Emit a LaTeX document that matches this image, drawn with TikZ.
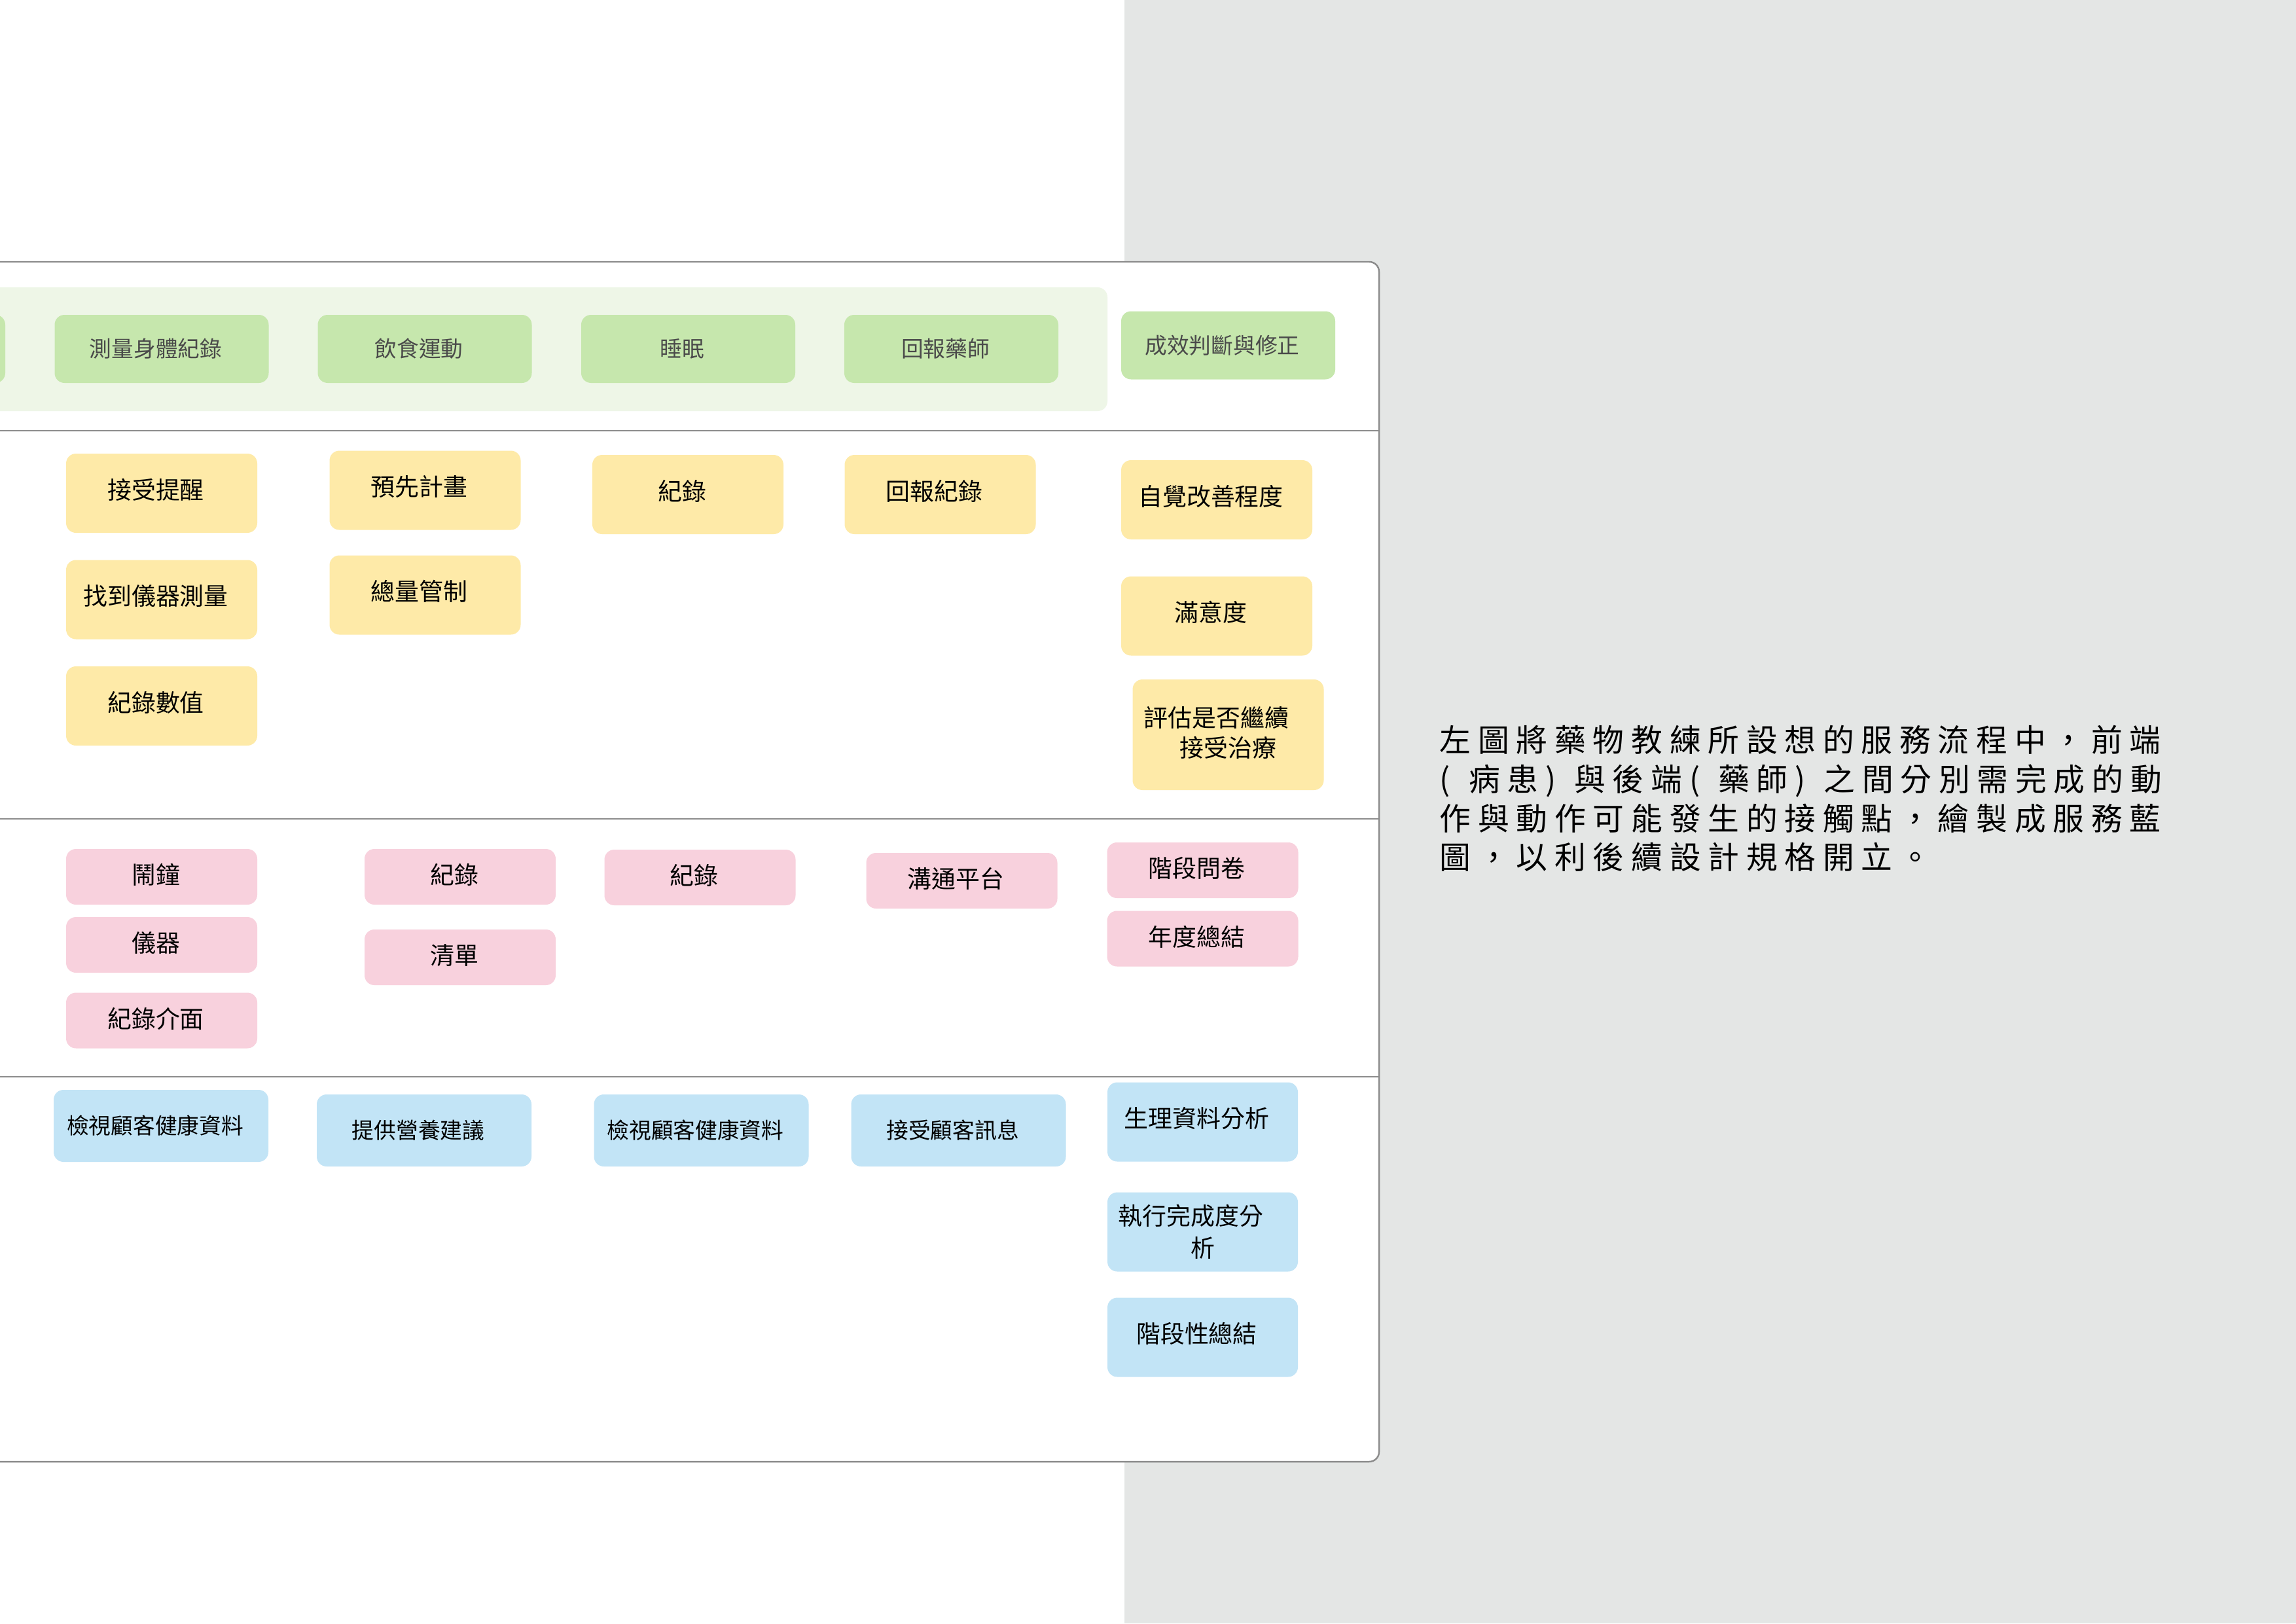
\documentclass[tikz,border=0pt]{standalone}
\usepackage{fontspec}
\setmainfont{Noto Sans CJK TC}
\definecolor{pagegray}{HTML}{E4E6E5}
\definecolor{lanegray}{HTML}{8C8C8C}
\definecolor{bandgreen}{HTML}{EEF6E7}
\definecolor{phasegreen}{HTML}{C6E7AD}
\definecolor{phasetext}{HTML}{4A4A4A}
\definecolor{actyellow}{HTML}{FEEAA8}
\definecolor{proppink}{HTML}{F8D1DD}
\definecolor{staffblue}{HTML}{C2E4F6}
\begin{document}
\begin{tikzpicture}[x=1cm, y=-1cm,
    card/.style={rounded corners=0.15cm, inner sep=0pt, align=center, minimum width=2.92cm, minimum height=1.21cm, font=\fontsize{10.5pt}{13pt}\selectfont, execute at end node={\kern0.18cm}},
    phasebox/.style={card, fill=phasegreen, text=phasetext, minimum width=3.27cm, minimum height=1.04cm, font=\fontsize{9.6pt}{12pt}\selectfont},
    actbox/.style={card, fill=actyellow, text depth=0.4em},
    propbox/.style={card, fill=proppink, minimum height=0.85cm},
    staffbox/.style={card, fill=staffblue}]
\useasboundingbox (0,0) rectangle (35.08,24.80);
\clip (0,0) rectangle (35.08,24.80);

% Page background
\fill[pagegray] (17.18,0) rectangle (35.08,24.80);

% Blueprint panel and lane lines
\draw[lanegray, line width=0.7pt, fill=white, rounded corners=0.15cm] (-1,4.0) rectangle (21.07,22.33);
\foreach \y in {6.58, 12.51, 16.45} {
    \draw[lanegray, line width=0.7pt] (-1,\y) -- (21.07,\y);
}

% Phase band
\fill[bandgreen, rounded corners=0.15cm] (-1,4.39) rectangle (16.92,6.28);

% Phases
\foreach \n/\x/\y/\txt in {prev/-1.555/5.33/{}, measure/2.47/5.33/測量身體紀錄, diet/6.49/5.33/飲食運動, sleep/10.515/5.33/睡眠, report/14.535/5.33/回報藥師, outcome/18.765/5.275/成效判斷與修正} {
    \node[phasebox] (\n) at (\x,\y) {\txt};
}

% Customer actions
\foreach \n/\x/\y/\txt in {remind/2.47/7.535/接受提醒, find/2.47/9.16/找到儀器測量, values/2.47/10.785/紀錄數值, plan/6.495/7.49/預先計畫, control/6.495/9.09/總量管制, log/10.51/7.555/紀錄, logreport/14.365/7.555/回報紀錄, selfeval/18.59/7.635/自覺改善程度, satisfy/18.59/9.41/滿意度} {
    \node[actbox] (\n) at (\x,\y) {\txt};
}
\node[actbox, minimum height=1.69cm, text depth=0.25em] (continue) at (18.765,11.225) {評估是否繼續\kern0.18cm\\接受治療\kern-0.18cm};

% Touchpoints
\foreach \n/\x/\y/\txt in {alarm/2.47/13.395/鬧鐘, device/2.47/14.435/儀器, ui/2.47/15.59/紀錄介面, record/7.03/13.395/紀錄, list/7.03/14.625/清單, sleeplog/10.695/13.405/紀錄, platform/14.695/13.455/溝通平台, survey/18.375/13.295/階段問卷, annual/18.375/14.34/年度總結} {
    \node[propbox, text depth=0.25em] (\n) at (\x,\y) {\txt};
}

% Pharmacist actions
\foreach \n/\x/\y/\txt in {review/2.46/17.2/檢視顧客健康資料, advise/6.48/17.27/提供營養建議, recheck/10.715/17.27/檢視顧客健康資料, receive/14.645/17.27/接受顧客訊息} {
    \node[staffbox, minimum width=3.28cm, minimum height=1.10cm, font=\fontsize{9.6pt}{12pt}\selectfont] (\n) at (\x,\y) {\txt};
}
\foreach \n/\x/\y/\txt in {physio/18.375/17.14/生理資料分析, summary/18.375/20.43/階段性總結} {
    \node[staffbox, minimum width=2.91cm, text depth=0.4em] (\n) at (\x,\y) {\txt};
}
\node[staffbox, minimum width=2.91cm, font=\fontsize{10.5pt}{13.8pt}\selectfont] (progress) at (18.375,18.82) {執行完成度分\kern0.18cm\\析\kern-0.18cm};

% Note
\node[anchor=west, inner sep=0pt, align=left, font=\fontsize{13.6pt}{17pt}\selectfont\addfontfeature{LetterSpace=22.5}] (note) at (21.99,12.20)
    {左圖將藥物教練所設想的服務流程中，前端\\(\hspace{8pt}病患)\hspace{8pt}與後端(\hspace{8pt}藥師)\hspace{8pt}之間分別需完成的動\\作與動作可能發生的接觸點，繪製成服務藍\\圖，以利後續設計規格開立。};
\end{tikzpicture}
\end{document}
